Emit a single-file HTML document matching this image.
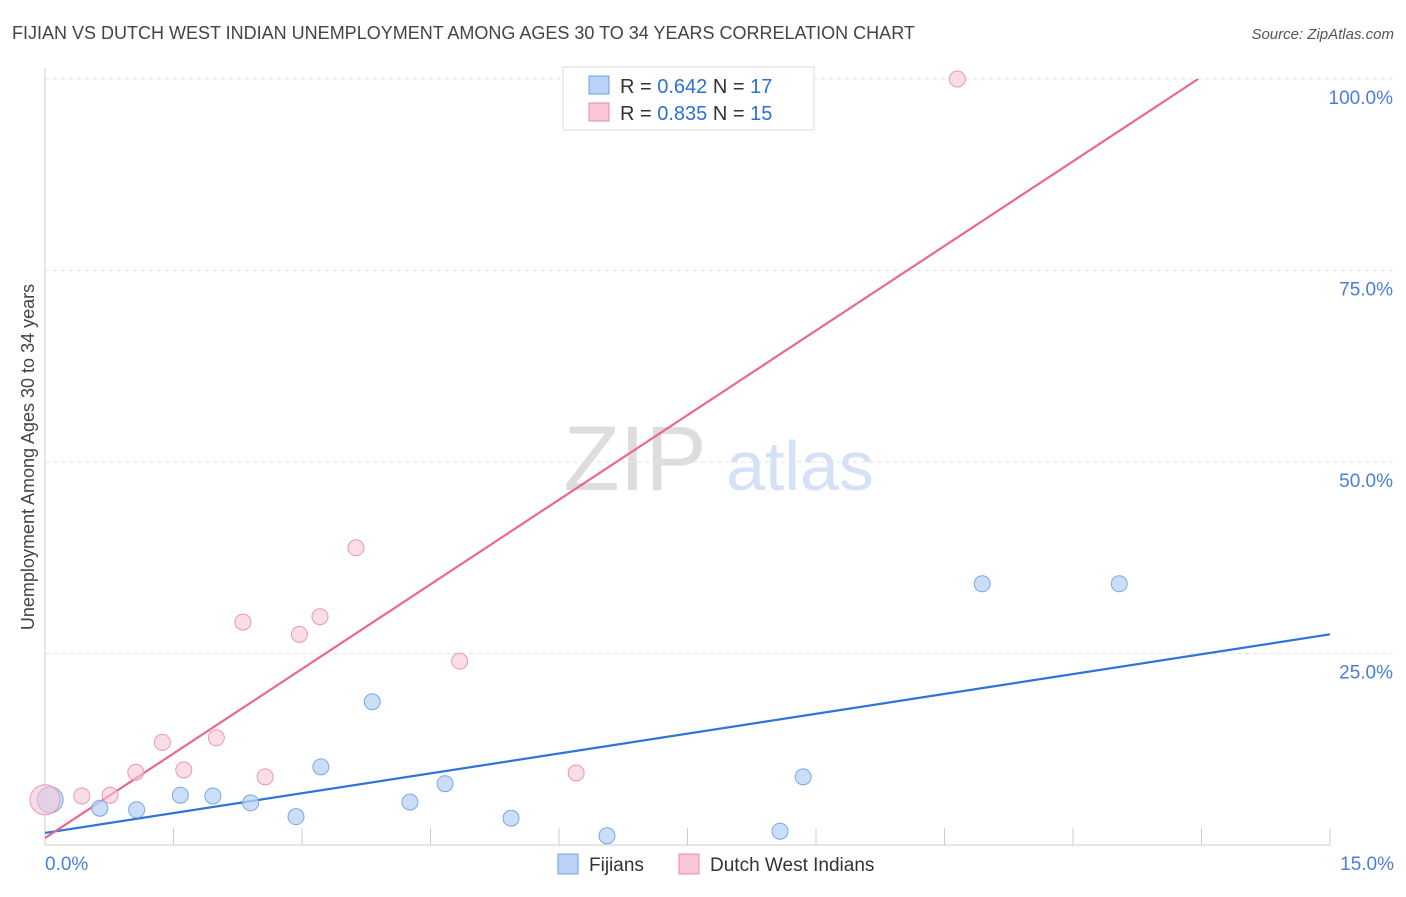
<!DOCTYPE html>
<html><head><meta charset="utf-8">
<style>
body{margin:0;background:#fff;font-family:"Liberation Sans",sans-serif;}
svg text{font-family:"Liberation Sans",sans-serif;}
</style></head>
<body>
<svg id="chart" width="1406" height="892" xmlns="http://www.w3.org/2000/svg">
<text x="12" y="39" font-size="18" fill="#444">FIJIAN VS DUTCH WEST INDIAN UNEMPLOYMENT AMONG AGES 30 TO 34 YEARS CORRELATION CHART</text>
<text x="1394" y="39" font-size="15" fill="#555" text-anchor="end" font-style="italic">Source: ZipAtlas.com</text>
<text x="635" y="490" font-size="92" fill="#ddd" text-anchor="middle" font-family="Liberation Serif">ZIP</text>
<text x="800" y="490" font-size="70" fill="#d5e2f5" text-anchor="middle">atlas</text>
<text transform="translate(34,457) rotate(-90)" font-size="18" fill="#444" text-anchor="middle">Unemployment Among Ages 30 to 34 years</text>
<g id="grid"></g>
<g id="lines"></g>
<g id="points"></g>
<g>
<rect x="563" y="67" width="251" height="63" fill="#fff" stroke="#ddd"/>
<rect x="589" y="76" width="20" height="18" fill="#b8d3f5" stroke="#6a9fe0"/>
<rect x="589" y="103" width="20" height="18" fill="#f9c6d6" stroke="#e88aa8"/>
<text x="620" y="93" font-size="20" fill="#333">R = <tspan fill="#2d6fd6">0.642</tspan>   N = <tspan fill="#2d6fd6">17</tspan></text>
<text x="620" y="120" font-size="20" fill="#333">R = <tspan fill="#2d6fd6">0.835</tspan>   N = <tspan fill="#2d6fd6">15</tspan></text>
</g>
<g>
<rect x="558" y="854" width="20" height="20" fill="#b8d3f5" stroke="#6a9fe0"/>
<text x="589" y="871" font-size="19" fill="#333">Fijians</text>
<rect x="679" y="854" width="20" height="20" fill="#f9c6d6" stroke="#e88aa8"/>
<text x="710" y="871" font-size="19" fill="#333">Dutch West Indians</text>
</g>
</svg>
<script>
const xTicks=[0,1.5,3,4.5,6,7.5,9,10.5,12,13.5,15];
const yTicks=[25,50,75,100];
const yTickLabels=["25.0%","50.0%","75.0%","100.0%"];
const fijX=[0.06,0.64,1.07,1.58,1.96,2.40,2.93,3.22,3.82,4.26,4.67,5.44,6.56,8.58,8.85,10.94,12.54];
const fijY=[5.9,4.8,4.6,6.5,6.4,5.5,3.7,10.2,18.7,5.6,8.0,3.5,1.2,1.8,8.9,34.1,34.1];
const dwiX=[0,0.43,0.76,1.06,1.37,1.62,2.0,2.31,2.57,2.97,3.21,3.63,4.84,6.2,10.65];
const dwiY=[5.9,6.4,6.5,9.5,13.4,9.8,14.0,29.1,8.9,27.5,29.8,38.8,24.0,9.4,100];
const fijLine=[[0,1.57],[15,27.5]];
const dwiLine=[[0,0.9],[13.46,100]];
const NS="http://www.w3.org/2000/svg";
const X=v=>45+v/15*1285, Y=v=>845-v/100*766;
function mk(tag,attrs,parent){const e=document.createElementNS(NS,tag);for(const k in attrs)e.setAttribute(k,attrs[k]);parent.appendChild(e);return e;}
const grid=document.getElementById('grid');
let ax=mk('line',{x1:45,y1:68,x2:45,y2:845,stroke:'#ccc'},grid);


let bx=mk('line',{x1:45,y1:845,x2:1330,y2:845,stroke:'#ccc'},grid);


yTicks.forEach((t,i)=>{
 let g=mk('line',{x1:45,y1:Y(t),x2:1394,y2:Y(t),stroke:'#e2e2e2','stroke-dasharray':'4,4'},grid);
 
 
 let l=mk('text',{x:1393,y:Y(t)+25,'font-size':19,fill:'#4a7fd6','text-anchor':'end'},grid);l.textContent=yTickLabels[i];
 
 
});
xTicks.forEach(t=>{
 let k=mk('line',{x1:X(t),y1:828,x2:X(t),y2:845,stroke:'#ccc'},grid);
 
 
});
let l0=mk('text',{x:45,y:870,'font-size':19,fill:'#4a7fd6'},grid);l0.textContent="0.0%";


let l1=mk('text',{x:1394,y:870,'font-size':19,fill:'#4a7fd6','text-anchor':'end'},grid);l1.textContent="15.0%";


const pts=document.getElementById('points');
fijX.forEach((x,i)=>{
 let c=mk('circle',{cx:X(x),cy:Y(fijY[i]),r:i==0?13:8,fill:'#b8d3f5','fill-opacity':0.75,stroke:'#7aa8e6','stroke-width':1},pts);
 
 
});
dwiX.forEach((x,i)=>{
 let c=mk('circle',{cx:X(x),cy:Y(dwiY[i]),r:i==0?15:8,fill:'#f9c6d6','fill-opacity':0.6,stroke:'#eb97b2','stroke-width':1},pts);
 
 
});
const ln=document.getElementById('lines');
let a=mk('line',{x1:X(fijLine[0][0]),y1:Y(fijLine[0][1]),x2:X(fijLine[1][0]),y2:Y(fijLine[1][1]),stroke:'#2f74d6','stroke-width':2.2},ln);


let b=mk('line',{x1:X(dwiLine[0][0]),y1:Y(dwiLine[0][1]),x2:X(dwiLine[1][0]),y2:Y(dwiLine[1][1]),stroke:'#e8688f','stroke-width':2.2},ln);


</script>
</body></html>
